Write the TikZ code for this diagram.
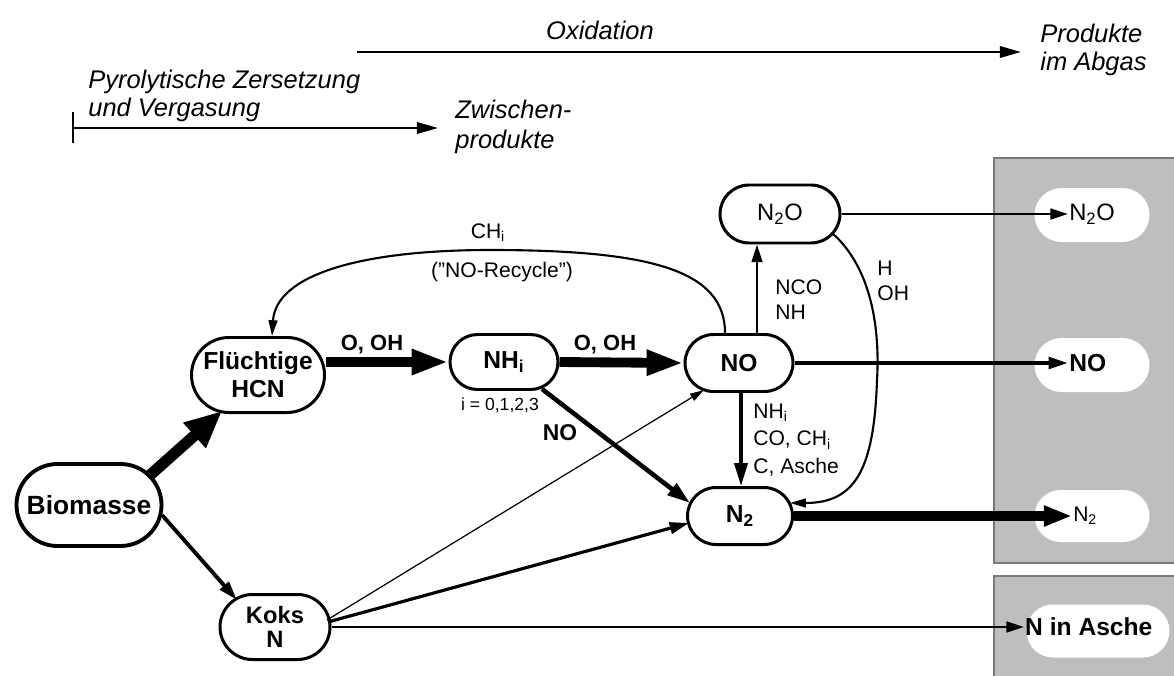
\documentclass[tikz,border=0pt]{standalone}
\usepackage{fontspec}
\setmainfont{Liberation Sans}
\usetikzlibrary{arrows.meta,shapes.misc,calc}
\definecolor{boxgray}{HTML}{BEBEBE}
\definecolor{boxedge}{HTML}{7A7A7A}
\begin{document}
\begin{tikzpicture}[x=0.2mm,y=-0.2mm,
  proc/.style={draw, rounded rectangle, line width=1.7pt, fill=white, align=center, inner sep=0pt,
    font=\fontsize{14}{16}\selectfont\bfseries},
  outv/.style={fill=white, rounded rectangle, inner sep=0pt},
  outt/.style={anchor=west, inner sep=0.5pt},
  boldfont/.style={font=\fontsize{14}{16}\selectfont\bfseries},
  regfont/.style={font=\fontsize{13.5}{16}\selectfont},
  lab/.style={font=\fontsize{12}{14.2}\selectfont, align=left, inner sep=0pt},
  blab/.style={font=\fontsize{12.5}{14}\selectfont\bfseries, inner sep=0pt},
  hdr/.style={font=\fontsize{14.5}{16}\selectfont\itshape, align=left, inner sep=0pt},
  huge/.style={line width=6.4pt, -{Triangle[length=21pt,width=18pt]}},
  fat/.style={line width=5.6pt, -{Triangle[length=21pt,width=13.5pt]}},
  bigout/.style={line width=5.2pt, -{Triangle[length=16pt,width=11pt]}},
  medarrow/.style={line width=2.2pt, -{Triangle[length=11pt,width=6.5pt]}},
  normarrow/.style={line width=1.6pt, -{Triangle[length=10pt,width=6pt]}},
  thinarrow/.style={line width=0.7pt, -{Triangle[length=8pt,width=4.5pt]}},
  curv/.style={line width=1.2pt, -{Triangle[length=9pt,width=5pt]}},
  hdrarrow/.style={line width=1.3pt, -{Triangle[length=12pt,width=6.5pt]}}
]
\useasboundingbox (0,0) rectangle (1174,675);

% grey output boxes
\filldraw[fill=boxgray, draw=boxedge, line width=1.6pt] (994,158) rectangle (1190,563);
\filldraw[fill=boxgray, draw=boxedge, line width=1.6pt] (994,576) rectangle (1190,690);

% output ovals and texts
\node[outv, minimum width=23mm, minimum height=10.8mm] (oN2Ov) at (1092,215) {};
\node[outv, minimum width=23mm, minimum height=10.8mm] (oNOv) at (1092,365) {};
\node[outv, minimum width=23mm, minimum height=10.4mm] (oN2v) at (1092,516) {};
\node[outv, minimum width=28.6mm, minimum height=10.6mm] (oAv) at (1098,631) {};
\node[outt, regfont] (oN2O) at (1068,214) {N\textsubscript{2}O};
\node[outt, boldfont] (oNO) at (1068,363) {NO};
\node[outt, font=\fontsize{12}{14}\selectfont] (oN2) at (1072,516) {N\textsubscript{2}};
\node[outt, boldfont] (oA) at (1024,627) {N in Asche};

% header
\coordinate (pyS) at (73,128);
\coordinate (pyE) at (438,128);
\coordinate (pyT) at (73,112);
\coordinate (pyB) at (73,143);
\draw[line width=1.5pt] (pyT) -- (pyB);
\draw[hdrarrow] (pyS) -- (pyE);
\node[hdr, anchor=west] (pyro) at (88,96) {Pyrolytische Zersetzung\\und Vergasung};
\node[hdr, anchor=west, font=\fontsize{14.5}{17}\selectfont\itshape] (zwi) at (455,127) {Zwischen-\\produkte};
\coordinate (oxS) at (357,52);
\coordinate (oxE) at (1021,52);
\draw[hdrarrow] (oxS) -- (oxE);
\node[hdr] (oxi) at (600,30) {Oxidation};
\node[hdr, anchor=west] (prod) at (1040,50) {Produkte\\im Abgas};

% process nodes
\node[proc, font=\fontsize{15}{17}\selectfont\bfseries, line width=2.2pt, minimum width=29mm, minimum height=16.4mm] (bio) at (89,505) {Biomasse};
\node[proc, minimum width=26.6mm, minimum height=15mm] (hcn) at (258,375) {Flüchtige\\HCN};
\node[proc, minimum width=21.6mm, minimum height=11mm] (nh) at (504,362) {NH\textsubscript{i}};
\node[proc, minimum width=21.6mm, minimum height=11.4mm] (no) at (739,363) {NO};
\node[proc, font=\fontsize{13.5}{16}\selectfont, minimum width=24mm, minimum height=11.6mm] (n2o) at (780,214) {N\textsubscript{2}O};
\node[proc, minimum width=21mm, minimum height=11.4mm] (n2) at (740,516) {N\textsubscript{2}};
\node[proc, font=\fontsize{13.5}{14}\selectfont\bfseries, minimum width=22mm, minimum height=13mm] (koks) at (275,627) {Koks\\N};

% connectors
\draw[huge] ($(bio.center)+(60,-29)$) -- ($(hcn.center)+(-36,36)$);
\draw[medarrow] ($(bio.center)+(73,10)$) -- ($(koks.center)+(-38,-27)$);
\draw[fat] (hcn.east |- nh.west) -- (nh.west);
\draw[fat] (nh.east) -- (no.west);
\draw[line width=2.6pt, -{Triangle[length=13pt,width=8pt]}] ($(nh.center)+(38,27)$) -- ($(n2.center)+(-50,-13)$);
\draw[thinarrow] ($(koks.center)+(52,-7)$) -- ($(no.center)+(-35,27)$);
\draw[medarrow, line width=1.8pt] ($(koks.center)+(53,-5)$) -- ($(n2.center)+(-51,7)$);
\draw[normarrow] (koks.east) -- (oA.west);
\coordinate (noUp) at ($(no.north)+(18,0)$);
\draw[normarrow, line width=1.5pt] (noUp) -- (noUp |- n2o.south);
\draw[line width=1.8pt, -{Triangle[length=13pt,width=7.5pt]}] ($(no.south)+(2,0)$) -- ($(n2.north)+(1,0)$);
\draw[normarrow] (n2o.east) -- (oN2O.west);
\draw[medarrow] (no.east) -- (oNO.west);
\draw[bigout] (n2.east) -- (oN2.west);

% curved connectors
\draw[curv] ($(no.north)+(-14,0)$) .. controls (725,270) and (650,250) .. (490,250)
  .. controls (360,250) and (276,275) .. ($(hcn.north)+(14,0)$);
\draw[curv] ($(n2o.center)+(52,19)$) .. controls (872,268) and (880,330) .. (877,380)
  .. controls (874,470) and (855,503) .. ($(n2.center)+(50,-13)$);

% labels
\node[blab] (l1) at (372,345) {O, OH};
\node[blab] (l2) at (605,345) {O, OH};
\node[blab, font=\fontsize{13}{14}\selectfont\bfseries] (l3) at (560,433) {NO};
\node[lab, font=\fontsize{10}{12}\selectfont] (l4) at (500,405) {i = 0,1,2,3};
\node[lab, anchor=west] (l5) at (775,300) {NCO\\NH};
\node[lab, anchor=west] (l6) at (877,281) {H\\OH};
\node[lab, anchor=west, font=\fontsize{12}{15.5}\selectfont] (l7) at (753,440) {NH\textsubscript{i}\\CO, CH\textsubscript{i}\\C, Asche};
\node[lab] (l8) at (488,233) {CH\textsubscript{i}};
\node[lab] (l9) at (502,272) {("NO-Recycle")};
\end{tikzpicture}
\end{document}
